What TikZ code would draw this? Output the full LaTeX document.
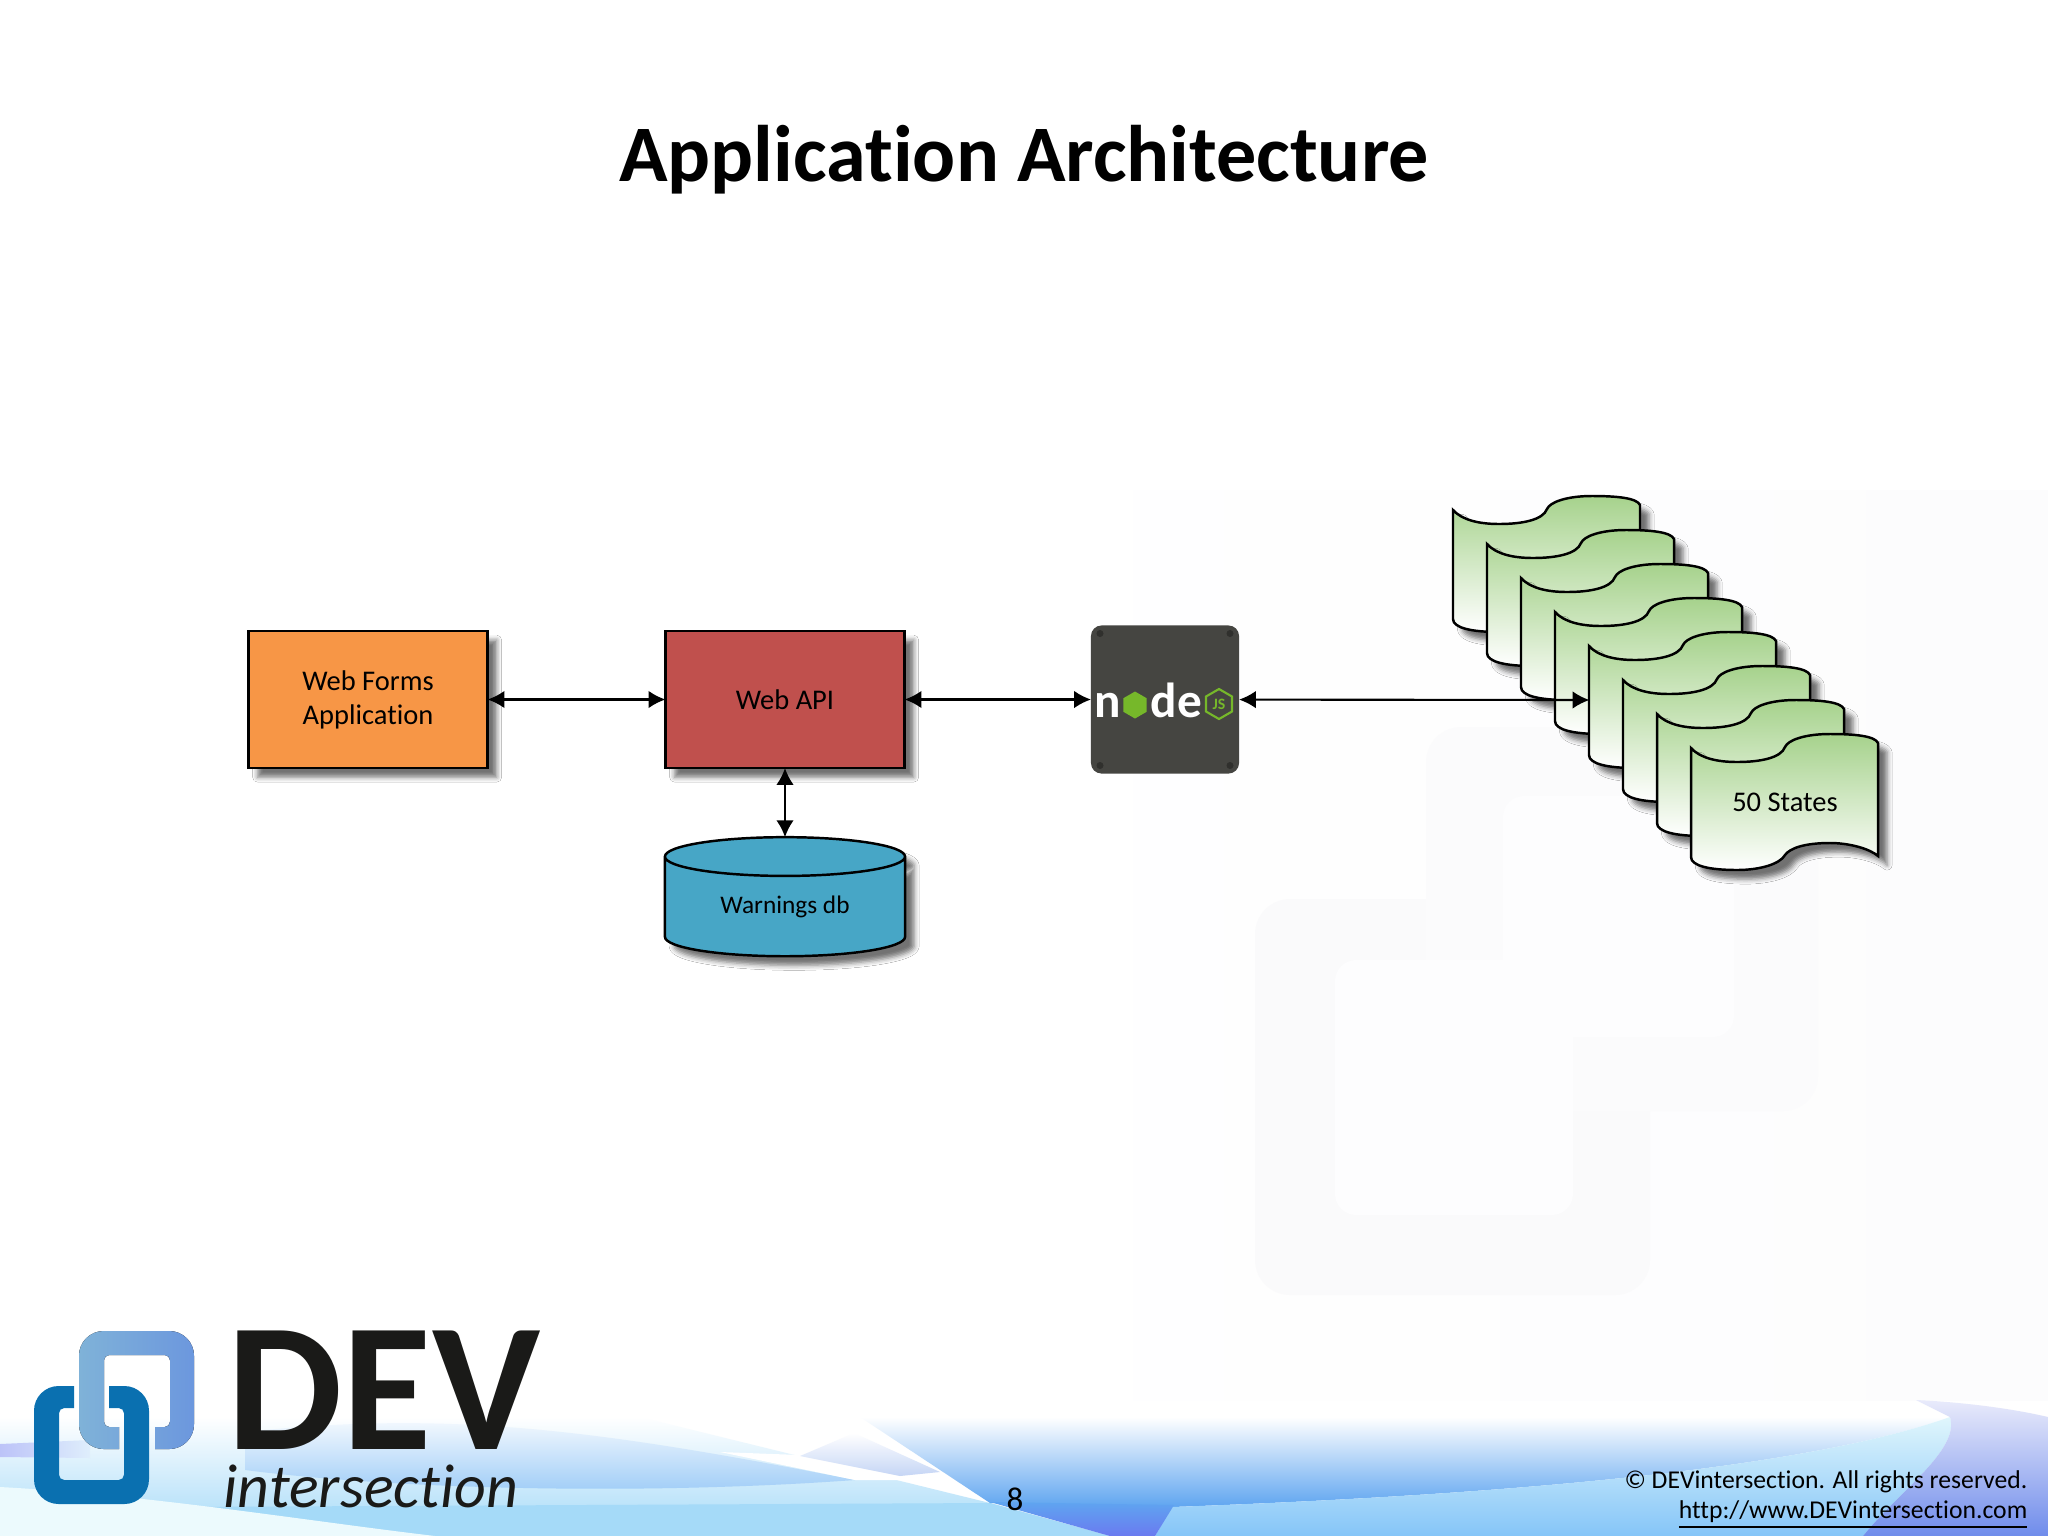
\documentclass[tikz,border=0pt]{standalone}
\usepackage{fontspec}
\setmainfont{Carlito}[Ligatures=CommonOff]
\usetikzlibrary{arrows.meta,shapes.geometric,shadows.blur}

\definecolor{boxorange}{HTML}{F79646}
\definecolor{boxred}{HTML}{C0504D}
\definecolor{boxblue}{HTML}{47A6C6}
\definecolor{stategreen}{HTML}{A6D28C}
\definecolor{nodegrey}{HTML}{454541}
\definecolor{nodegreen}{HTML}{76B82A}
\definecolor{ringdark}{HTML}{0A70B0}
\definecolor{ringlight}{HTML}{7FB2D8}
\definecolor{inkdark}{HTML}{1A1A18}
\definecolor{marka}{HTML}{FCFCFD}
\definecolor{markb}{HTML}{FAFAFB}
\definecolor{markc}{HTML}{FBFBFC}
\definecolor{markd}{HTML}{FDFDFE}
\definecolor{bandsky}{HTML}{A5DAF8}
\definecolor{bandmid}{HTML}{BFDDF9}
\definecolor{bandlens}{HTML}{9CCBF7}
\definecolor{banddeep}{HTML}{5FA5F0}
\definecolor{bandviolet}{HTML}{6A7AF0}
\definecolor{bandpale}{HTML}{E0F6FC}
\definecolor{bandlow}{HTML}{85C5F8}
\definecolor{bandhaze}{HTML}{C8CCF5}
\definecolor{bandcorner}{HTML}{6F8CEB}
\definecolor{bandstreak}{HTML}{C5D5F5}

\tikzset{
  softshadow/.style={blur shadow={shadow xshift=2.6pt,shadow yshift=-2.6pt,shadow blur radius=1.4pt,shadow opacity=55}},
  flowbox/.style={draw,line width=0.7pt,outer sep=0pt,minimum width=2.39cm,minimum height=1.37cm,softshadow,align=center,font=\fontsize{8.1}{9.7}\selectfont},
  statebox/.style={minimum width=1.87cm,minimum height=1.36cm,inner sep=0pt,outer sep=0pt},
  link/.style={<->,line width=0.6pt},
  wash/.style={draw=none},
}

\begin{document}
\begin{tikzpicture}[x=0.01cm,y=-0.01cm]
  \tikzset{>={Latex[length=4.8pt,width=5pt]}}
  \useasboundingbox (0,0) rectangle (2048,1536);
  \fill[white] (0,0) rectangle (2048,1536);

  % watermark
  \path[wash,left color=white,right color=marka] (950,490) rectangle (2048,1400);
  \fill[rounded corners=10pt,markb] (1255,899) rectangle (1650,1295);
  \fill[rounded corners=10pt,markc] (1426,727) rectangle (1818,1111);
  \fill[rounded corners=6pt,markd] (1335,960) rectangle (1573,1215);
  \fill[rounded corners=6pt,markd] (1503,796) rectangle (1734,1037);

  % bottom band
  \path[wash,top color=white,middle color=bandmid,bottom color=bandsky] (0,1417) -- (640,1417)
    -- (990,1503) -- (1110,1536) -- (0,1536) -- cycle;
  \path[wash,top color=white,bottom color=bandlens] (245,1432) .. controls (450,1410) and (600,1430) .. (855,1480)
    .. controls (650,1495) and (400,1490) .. (245,1470) -- cycle;
  \path[wash,left color=bandviolet!45!white,right color=bandmid!50!white] (0,1444) -- (90,1440) -- (90,1458) -- (0,1457) -- cycle;
  \path[wash,fill=white] (720,1452) -- (855,1480) -- (900,1480) -- (800,1455) -- cycle;
  \path[wash,top color=white,bottom color=bandstreak] (854,1433) -- (940,1472) -- (900,1476) -- (800,1456) -- cycle;
  \path[wash,fill=bandsky] (175,1507) -- (990,1503) -- (1110,1536) -- (435,1536) -- cycle;
  \path[wash,fill=bandpale!60!white] (0,1487) .. controls (150,1495) and (300,1520) .. (435,1536) -- (0,1536) -- cycle;
  \path[wash,top color=white,bottom color=banddeep] (860,1417) -- (1950,1417)
    .. controls (1800,1470) and (1500,1495) .. (1172,1507) -- (990,1503) -- cycle;
  \path[wash,top color=bandpale,bottom color=bandlow] (1172,1507) .. controls (1500,1495) and (1800,1470) .. (1950,1417)
    .. controls (1960,1450) and (1900,1490) .. (1863,1536) -- (1155,1536) -- cycle;
  \path[wash,top color=banddeep,bottom color=bandviolet] (990,1502) -- (1174,1505) -- (1155,1536) -- (1110,1536) -- cycle;
  \path[wash,top color=bandhaze!40!white,bottom color=bandcorner] (1916,1400) .. controls (1960,1402) and (2010,1408) .. (2048,1417) -- (2048,1536) -- (1863,1536)
    .. controls (1900,1490) and (1960,1450) .. (1950,1417) -- cycle;

  % logo
  \fill[left color=ringlight,right color=ringlight!85!blue] (119,1449) [rounded corners=7pt] -- (79,1449) -- (79,1331) -- (194,1331) -- (194,1449) [sharp corners] -- (155,1449)
    -- (155,1427) [rounded corners=1.5pt] -- (170,1427) -- (170,1355) -- (104,1355) -- (104,1427) [sharp corners] -- (119,1427) -- cycle;
  \fill[ringdark] (74,1386) [rounded corners=7pt] -- (34,1386) -- (34,1504) -- (149,1504) -- (149,1386) [sharp corners] -- (109,1386)
    -- (109,1408) [rounded corners=1.5pt] -- (124,1408) -- (124,1480) -- (59,1480) -- (59,1408) [sharp corners] -- (74,1408) -- cycle;
  \node[anchor=base west,inner sep=0pt,text=inkdark,font=\fontsize{52}{53}\selectfont\bfseries] (logodev) at (227,1449) {DEV};
  \node[anchor=base west,inner sep=0pt,text=inkdark,font=\fontsize{17.6}{18}\selectfont\itshape] (logointer) at (223,1507) {intersection};

  % title and footer
  \node[anchor=base,font=\fontsize{22.8}{24}\selectfont\bfseries] (title) at (1024,181) {Application Architecture};
  \node[anchor=base,font=\fontsize{9.4}{11}\selectfont] (pagenum) at (1015,1510) {8};
  \node[anchor=base east,inner sep=0pt,font=\fontsize{7.3}{9}\selectfont] (rights) at (2028,1488) {© DEVintersection. All rights reserved.};
  \node[anchor=base east,inner sep=0pt,font=\fontsize{7.3}{9}\selectfont] (site) at (2028,1518) {\underline{http://www.DEVintersection.com}};

  % boxes
  \node[flowbox,fill=boxorange] (webforms) at (368,699.5) {Web Forms\\Application};
  \node[flowbox,fill=boxred] (webapi) at (785,699.5) {Web API};
  \node[flowbox,cylinder,shape border rotate=90,aspect=0.3,fill=boxblue,minimum width=2.4cm,minimum height=1.19cm,inner sep=0pt,font=\fontsize{7.2}{9}\selectfont] (warnings) at (785,907) {Warnings db};

  % node.js tile
  \node[fill=nodegrey,rounded corners=3pt,outer sep=0pt,minimum size=1.48cm] (nodejs) at (1165,699.5) {};
  \foreach \sx/\sy in {-65/-66,65/-66,-65/66,65/66}
    \fill[nodegrey!70!black] (1165+\sx,699.5+\sy) circle (0.035cm);
  \node[text=white,inner sep=0pt,anchor=base,font=\fontsize{14}{14}\selectfont\bfseries] (noden) at (1108,717) {n};
  \node[regular polygon,regular polygon sides=6,shape border rotate=30,fill=nodegreen,minimum size=0.27cm,inner sep=0pt] (nodeo) at (1135,705) {};
  \node[text=white,inner sep=0pt,anchor=base,font=\fontsize{14}{14}\selectfont\bfseries] (noded) at (1164,717) {d};
  \node[text=white,inner sep=0pt,anchor=base,font=\fontsize{14}{14}\selectfont\bfseries] (nodee) at (1190,717) {e};
  \node[regular polygon,regular polygon sides=6,shape border rotate=30,draw=nodegreen,line width=0.6pt,text=nodegreen,minimum size=0.3cm,inner sep=0pt,font=\fontsize{4.5}{5}\selectfont\bfseries] (nodebadge) at (1219,704) {JS};

  % stack of states
  \foreach \i in {7,...,0}{
    \node[statebox] (state\i) at ({1785-34*\i},{802-34*\i}) {};
    \begin{scope}[shift={(state\i.center)}]
      \draw[line width=0.7pt,top color=stategreen,middle color=stategreen!65!white,bottom color=white,softshadow]
        (-94,-54) .. controls (-85,-44) and (-68,-40) .. (-48,-40) .. controls (-25,-40) and (-4,-44) .. (0,-55)
        .. controls (3,-62) and (20,-68) .. (45,-68) .. controls (70,-68) and (90,-66) .. (93,-59)
        -- (93,54) .. controls (85,47) and (65,41) .. (45,41) .. controls (20,41) and (5,46) .. (0,53)
        .. controls (-5,62) and (-25,68) .. (-48,68) .. controls (-75,68) and (-94,64) .. (-94,55) -- cycle;
    \end{scope}
  }
  \node[font=\fontsize{8.1}{9.7}\selectfont] (statename) at (state0) {50 States};

  % connectors
  \draw[link] (webforms) -- (webapi);
  \draw[link] (webapi) -- (nodejs);
  \draw[link] (nodejs) -- (state3.west);
  \draw[link] (webapi) -- (warnings.top);
\end{tikzpicture}
\end{document}
